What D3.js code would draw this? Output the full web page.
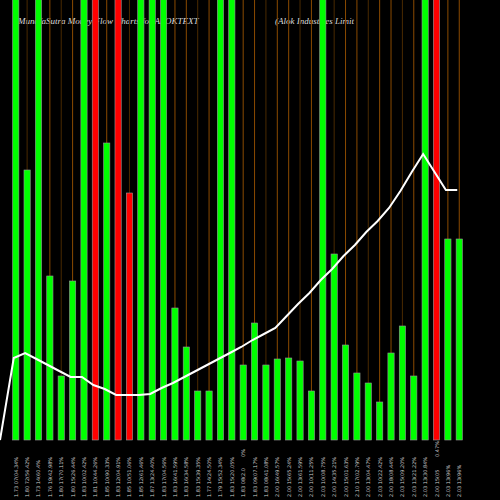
<!DOCTYPE html>
<html><head><meta charset="utf-8">
<script src="https://cdn.jsdelivr.net/npm/d3@7"></script>
<style>body{margin:0;background:#000}</style>
</head><body>
<div id="chart"></div>
<script>
// bar heights in px-units above baseline; 460 = runs off the top
var volumes = [460,270,460,164,64,159,460,460,297,460,247,460,460,460,132,93,49,49,460,460,
    75,117,75,81,82,79,49,460,186,95,67,57,38,87,114,64,460,460,201,201];
var colors = ["g","g","g","g","g","g","g","r","g","r","r","g","g","g","g","g","g","g","g","g",
    "g","g","g","g","g","g","g","g","g","g","g","g","g","g","g","g","g","r","g","g"];
var flow = [82,87,81,75,69,63,63,55,51,45,45,45,46,52,57,63,69,75,81,87,
    93,100,106,112,124,136,147,160,171,184,195,208,219,232,249,268,286,268,250,250];
var labels = ["1.73 07(04.34%","1.80 72(56.42%","1.73 14(60.4%","1.76 19(42.98%","1.80 17(70.11%",
    "1.80 15(26.44%","1.83 10(02.42%","1.81 10(44.26%","1.85 10(90.33%","1.83 12(04.91%",
    "1.85 10(51.06%","1.85 12(61.46%","1.87 13(24.40%","1.83 17(04.56%","1.83 16(41.59%",
    "1.83 16(34.58%","1.83 15(39.35%","1.77 14(24.50%","1.79 15(52.34%","1.83 15(20.05%",
    "1.83 08(2.0","1.83 09(07.17%","1.83 08(41.08%","2.00 16(49.57%","2.00 15(65.24%",
    "2.00 13(61.59%","2.00 10(11.25%","2.03 10(08.75%","2.00 14(35.21%","2.00 15(01.63%",
    "2.10 17(02.79%","2.00 13(04.47%","2.03 10(22.42%","2.00 18(08.44%","2.03 15(09.20%",
    "2.03 13(21.22%","2.03 13(30.84%","2.00 15(05","2.03 13(96%","2.03 13(96%"];
var extra = {20: "0%", 37: "0.47%"};

var width = 500, height = 500, base = 440;
var svg = d3.select("#chart").append("svg").attr("width", width).attr("height", height)
    .style("background", "#000");

var x = d3.scaleBand().domain(d3.range(volumes.length)).range([7.5, 467.5]).padding(0.45);
var y = d3.scaleLinear().domain([0, 440]).range([base, 0]);

// title (sits behind bars)
svg.append("text").attr("x", 18).attr("y", 24)
    .style("font", "italic 9px 'Liberation Serif', serif").style("fill", "#ddd")
    .text("MunafaSutra  Money Flow  Charts for ALOKTEXT");
svg.append("text").attr("x", 275).attr("y", 24)
    .style("font", "italic 9px 'Liberation Serif', serif").style("fill", "#ddd")
    .text("(Alok Industries Limit");

// thin orange guide lines
svg.selectAll("line.guide").data(volumes).enter().append("line")
    .attr("x1", function(d, i) { return x(i) + x.bandwidth() / 2; })
    .attr("x2", function(d, i) { return x(i) + x.bandwidth() / 2; })
    .attr("y1", 0).attr("y2", base)
    .style("stroke", function(d, i) { return i % 3 == 1 ? "#4a2a00" : "#8a4a00"; })
    .style("stroke-width", 1);

// bars
svg.selectAll("rect.bar").data(volumes).enter().append("rect")
    .attr("x", function(d, i) { return x(i); })
    .attr("width", x.bandwidth())
    .attr("y", function(d) { return Math.max(-5, y(d)); })
    .attr("height", function(d) { return base - Math.max(-5, y(d)); })
    .style("fill", function(d, i) { return colors[i] == "r" ? "#ff0000" : "#00ff00"; })
    .style("stroke", "#999").style("stroke-width", 0.6);

// money flow line
var line = d3.line()
    .x(function(d, i) { return i < 0 ? 0 : x(i) + x.bandwidth() / 2 - 2; })
    .y(function(d) { return y(d); });
var pts = [[0, 0]].concat(flow.map(function(d, i) { return [x(i) + x.bandwidth() / 2 - 2, d]; }));
svg.append("path").datum(pts)
    .attr("d", d3.line().x(function(d) { return d[0]; }).y(function(d) { return y(d[1]); }))
    .style("fill", "none").style("stroke", "#fff").style("stroke-width", 2);

// x labels
svg.selectAll("text.lab").data(labels).enter().append("text")
    .attr("transform", function(d, i) {
        return "translate(" + (x(i) + x.bandwidth() / 2 + 2) + ",497) rotate(-90)";
    })
    .style("font", "5px 'DejaVu Sans', sans-serif").style("fill", "#ccc")
    .text(function(d) { return d; });
Object.keys(extra).forEach(function(k) {
    svg.append("text")
        .attr("transform", "translate(" + (x(+k) + x.bandwidth() / 2 + 2) + ",457) rotate(-90)")
        .style("font", "5px 'DejaVu Sans', sans-serif").style("fill", "#ccc")
        .text(extra[k]);
});
</script>
</body></html>
